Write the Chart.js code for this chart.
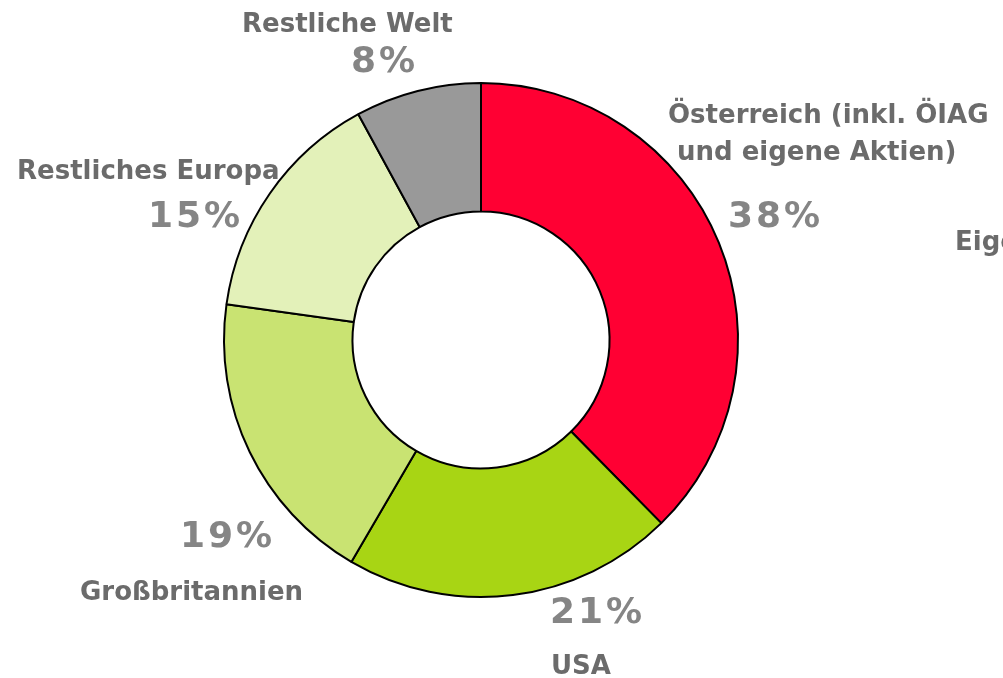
<!DOCTYPE html>
<html>
<head>
<meta charset="utf-8">
<script src="https://cdn.jsdelivr.net/npm/chart.js@4.4.1/dist/chart.umd.min.js"></script>
<style>
  html, body { margin: 0; padding: 0; background: #fff; overflow: hidden; }
  #wrap { position: relative; width: 1003px; height: 678px; }
</style>
</head>
<body>
<div id="wrap"><canvas id="shares"></canvas></div>
<script>
const regions = ['Österreich (inkl. ÖIAG und eigene Aktien)', 'USA', 'Großbritannien', 'Restliches Europa', 'Restliche Welt'];
const shares = [38, 21, 19, 15, 8];
const sliceColors = ['#ff0033', '#a8d514', '#c9e372', '#e3f1b9', '#999999'];

// label lines per slice, placed around the ring like the original slide
const nameLines = [
    ['Österreich (inkl. ÖIAG', 'und eigene Aktien)'],
    ['USA'],
    ['Großbritannien'],
    ['Restliches Europa'],
    ['Restliche Welt'],
];
const nameSpots = [
    [[668, 116], [677, 153]],
    [[551, 667]],
    [[80, 593]],
    [[17, 172]],
    [[242, 25]],
];
const pctSpots = [[728, 218], [550, 614], [180, 538], [148, 218], [351, 63]];

const labelPlugin = {
    id: 'sliceLabels',
    afterDraw(chart) {
        const ctx = chart.ctx;
        ctx.save();
        ctx.textAlign = 'left';
        ctx.textBaseline = 'middle';

        ctx.font = 'bold 26px "DejaVu Sans"';
        ctx.fillStyle = '#6b6b6b';
        ctx.letterSpacing = '0px';
        nameLines.forEach((lines, i) => {
            lines.forEach((line, j) => {
                const [x, y] = nameSpots[i][j];
                ctx.fillText(line, x, y);
            });
        });
        // cut-off entry from the neighbouring chart
        ctx.fillText('Eigene Aktien', 955, 243);

        ctx.font = 'bold 36px "DejaVu Sans"';
        ctx.fillStyle = '#858585';
        ctx.letterSpacing = '3px';
        shares.forEach((v, i) => {
            const [x, y] = pctSpots[i];
            ctx.fillText(v + '%', x, y);
        });
        ctx.restore();
    },
};

new Chart(document.getElementById('shares'), {
    type: 'doughnut',
    data: {
        labels: regions,
        datasets: [{
            data: shares,
            backgroundColor: sliceColors,
            borderColor: '#000',
            borderWidth: 2,
        }],
    },
    options: {
        responsive: true,
        maintainAspectRatio: false,
        animation: false,
        cutout: '50%',
        layout: { padding: { left: 221, right: 262, top: 82, bottom: 80 } },
        plugins: {
            legend: { display: false },
            tooltip: { enabled: false },
        },
    },
    plugins: [labelPlugin],
});
</script>
</body>
</html>
